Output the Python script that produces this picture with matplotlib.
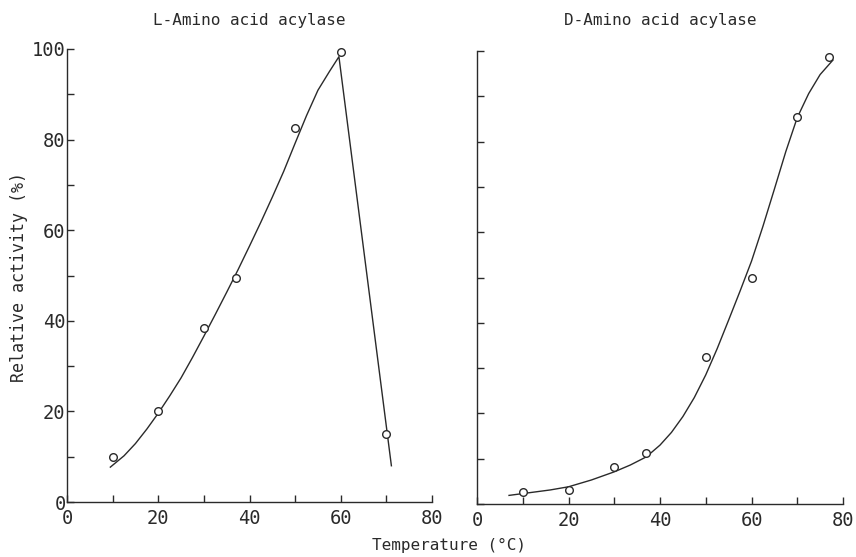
import matplotlib
matplotlib.use("Agg")
import matplotlib.pyplot as plt
from matplotlib.ticker import MultipleLocator

# ---- data ----
l_temp = [10, 20, 30, 37, 50, 60, 70]
l_act = [10.0, 20.0, 38.5, 49.5, 82.5, 99.3, 15.0]
# fitted curve
l_curve_x = [9.5, 12.5, 15, 17.5, 20, 22.5, 25, 27.5, 30, 32.5, 35, 37.5, 40,
             42.5, 45, 47.5, 50, 52.5, 55, 57.5, 59.6, 71.1]
l_curve_y = [7.7, 10.2, 12.9, 16.1, 19.6, 23.4, 27.4, 31.9, 36.6, 41.4, 46.3,
             51.3, 56.5, 61.8, 67.3, 73.0, 79.2, 85.3, 90.9, 95.0, 98.3, 8.0]

d_temp = [10, 20, 30, 37, 50, 60, 70, 77]
d_act = [2.6, 3.1, 8.2, 11.3, 32.5, 49.9, 85.4, 98.7]
d_curve_x = [7, 10, 13, 16, 20, 25, 30, 33.5, 37, 40, 42.5, 45, 47.5, 50, 52.5,
             55, 57.5, 60, 62.5, 65, 67.5, 70, 72.5, 75, 77.8]
d_curve_y = [1.9, 2.3, 2.7, 3.1, 3.8, 5.3, 7.1, 8.6, 10.4, 13.0, 15.8, 19.3,
             23.5, 28.5, 34.3, 40.6, 47.0, 53.6, 61.3, 69.5, 77.8, 85.3, 90.6,
             94.8, 98.0]

titles = ["L-Amino acid acylase", "D-Amino acid acylase"]
x_ticks = [0, 20, 40, 60, 80]
y_ticks = [0, 20, 40, 60, 80, 100]

ink = "#2a2a2a"
font = ["DejaVu Sans Mono"]
plt.rcParams['font.family'] = font

W, H = 856, 557
fig = plt.figure(figsize=(W / 100, H / 100), dpi=100)
ax1 = fig.add_axes([67 / W, 55 / H, 365 / W, 453 / H])
ax2 = fig.add_axes([477 / W, 53 / H, 366 / W, 453 / H])

for ax, title in zip([ax1, ax2], titles):
    ax.set_xlim(0, 80)
    ax.set_ylim(0, 100)
    for s in ["top", "right"]:
        ax.spines[s].set_visible(False)
    for s in ["left", "bottom"]:
        ax.spines[s].set_color(ink)
        ax.spines[s].set_linewidth(1.0)
    ax.set_xticks(x_ticks)
    ax.set_yticks(y_ticks)
    ax.xaxis.set_minor_locator(MultipleLocator(10))
    ax.yaxis.set_minor_locator(MultipleLocator(10))
    ax.tick_params(which="both", direction="in", length=5, width=1.0, color=ink,
                   labelcolor=ink, labelsize=13.5)
    ax.tick_params(axis="x", pad=5)
    ax.tick_params(axis="y", pad=1)
    bb = ax.get_position()
    fig.text((bb.x0 + bb.x1) / 2, 1 - 20 / H, title, fontsize=11.5, color=ink,
             ha="center", va="center")

ax2.set_yticklabels([])

ax1.plot(l_curve_x, l_curve_y, color=ink, lw=1.0)
ax1.plot(l_temp, l_act, "o", mfc="white", mec=ink, mew=1.0, ms=5.5, clip_on=False)

ax2.plot(d_curve_x, d_curve_y, color=ink, lw=1.0)
ax2.plot(d_temp, d_act, "o", mfc="white", mec=ink, mew=1.0, ms=5.5, clip_on=False)

ax1.set_ylabel("Relative activity (%)", fontsize=12, color=ink)
ax1.yaxis.set_label_coords(-39 / 365, 0.497)
fig.text(449 / W, 1 - 545 / H, "Temperature (\u00b0C)", fontsize=11.5, color=ink,
         ha="center", va="center")

fig.savefig("out.png", dpi=100)
